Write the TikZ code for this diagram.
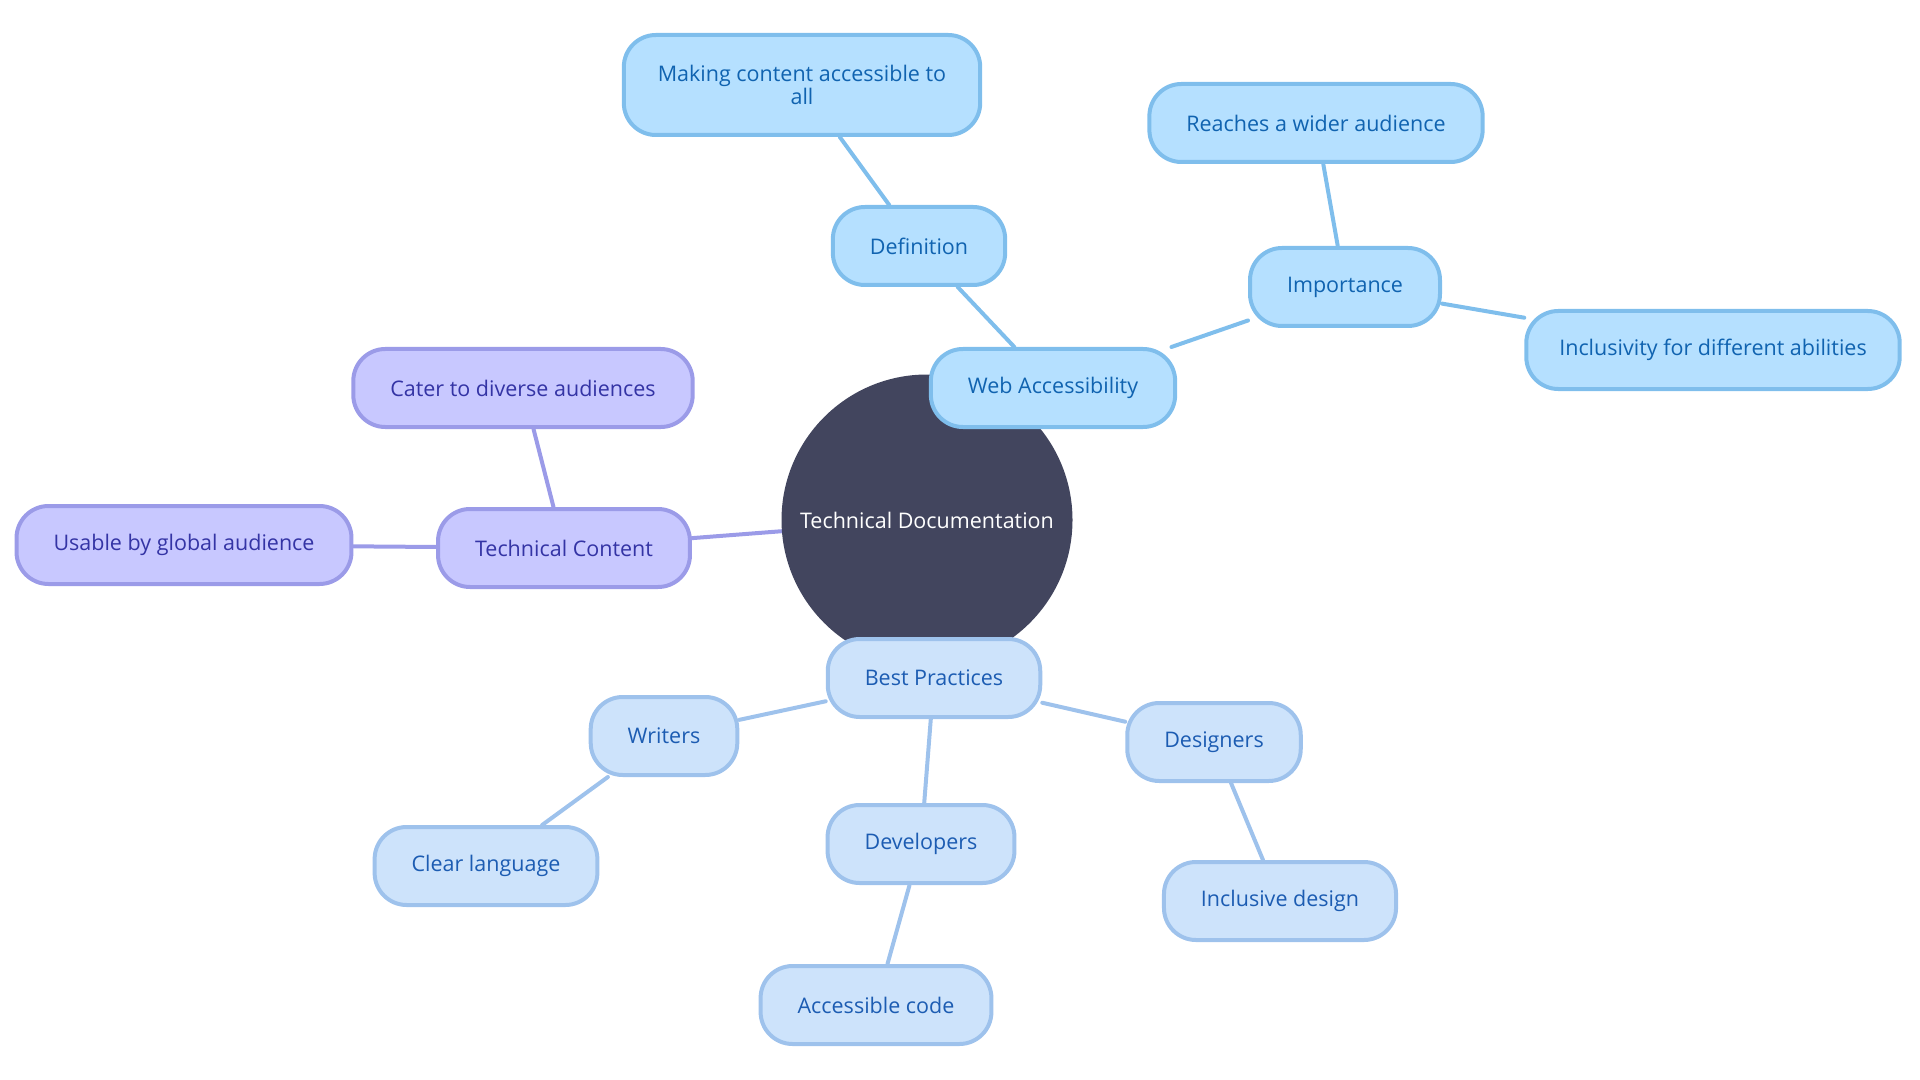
\documentclass[tikz,border=0pt]{standalone}
\usepackage{fontspec}
\setmainfont{Open Sans}
\usetikzlibrary{backgrounds}
\definecolor{rootfill}{RGB}{66,69,94}
\definecolor{webfill}{RGB}{181,224,255}
\definecolor{webline}{RGB}{127,190,236}
\definecolor{webtext}{RGB}{16,99,176}
\definecolor{techfill}{RGB}{200,200,255}
\definecolor{techline}{RGB}{155,155,232}
\definecolor{techtext}{RGB}{52,52,165}
\definecolor{bestfill}{RGB}{205,227,251}
\definecolor{bestline}{RGB}{158,194,236}
\definecolor{besttext}{RGB}{28,92,178}

\begin{document}
\begin{tikzpicture}[
    x=0.5pt, y=-0.5pt,
    every node/.style={font=\fontsize{10.75pt}{11.7pt}\selectfont},
    root/.style={circle, fill=rootfill, text=white, minimum size=145.5pt},
    leaf/.style={rectangle, rounded corners=16pt, line width=2pt,
                 minimum height=39pt, inner xsep=18.5pt, align=center},
    web/.style={leaf, draw=webline, fill=webfill, text=webtext},
    tech/.style={leaf, draw=techline, fill=techfill, text=techtext},
    best/.style={leaf, draw=bestline, fill=bestfill, text=besttext},
    link/.style={line width=2pt, line cap=round}
]
    \useasboundingbox (0,0) rectangle (1920,1080);

    % Nodes
    \node[root] (doc) at (927,520) {Technical Documentation};

    \node[web] (web) at (1053,388) {Web Accessibility};
    \node[web] (def) at (919,246) {Definition};
    \node[web, minimum height=50pt, inner xsep=17pt] (making) at (802,85) {Making content accessible to\\all};
    \node[web] (imp) at (1345,287) {Importance};
    \node[web] (reach) at (1316,123) {Reaches a wider audience};
    \node[web, inner xsep=16.5pt] (incl) at (1713,350) {Inclusivity for different abilities};

    \node[tech] (tc) at (564,548) {Technical Content};
    \node[tech] (cater) at (523,388) {Cater to diverse audiences};
    \node[tech] (usable) at (184,545) {Usable by global audience};

    \node[best] (bp) at (934,678) {Best Practices};
    \node[best] (writers) at (664,736) {Writers};
    \node[best] (clear) at (486,866) {Clear language};
    \node[best] (dev) at (921,844) {Developers};
    \node[best] (code) at (876,1005) {Accessible code};
    \node[best] (des) at (1214,742) {Designers};
    \node[best] (incd) at (1280,901) {Inclusive design};

    % Links
    \begin{pgfonlayer}{background}
    \draw[link, webline] (doc) -- (web);
    \draw[link, webline] (web) -- (def);
    \draw[link, webline] (def) -- (making);
    \draw[link, webline] (web) -- (imp);
    \draw[link, webline] (imp) -- (reach);
    \draw[link, webline] (imp) -- (incl);
    \draw[link, techline] (doc) -- (tc);
    \draw[link, techline] (tc) -- (cater);
    \draw[link, techline] (tc) -- (usable);
    \draw[link, bestline] (doc) -- (bp);
    \draw[link, bestline] (bp) -- (writers);
    \draw[link, bestline] (writers) -- (clear);
    \draw[link, bestline] (bp) -- (dev);
    \draw[link, bestline] (dev) -- (code);
    \draw[link, bestline] (bp) -- (des);
    \draw[link, bestline] (des) -- (incd);
    \end{pgfonlayer}
\end{tikzpicture}
\end{document}
